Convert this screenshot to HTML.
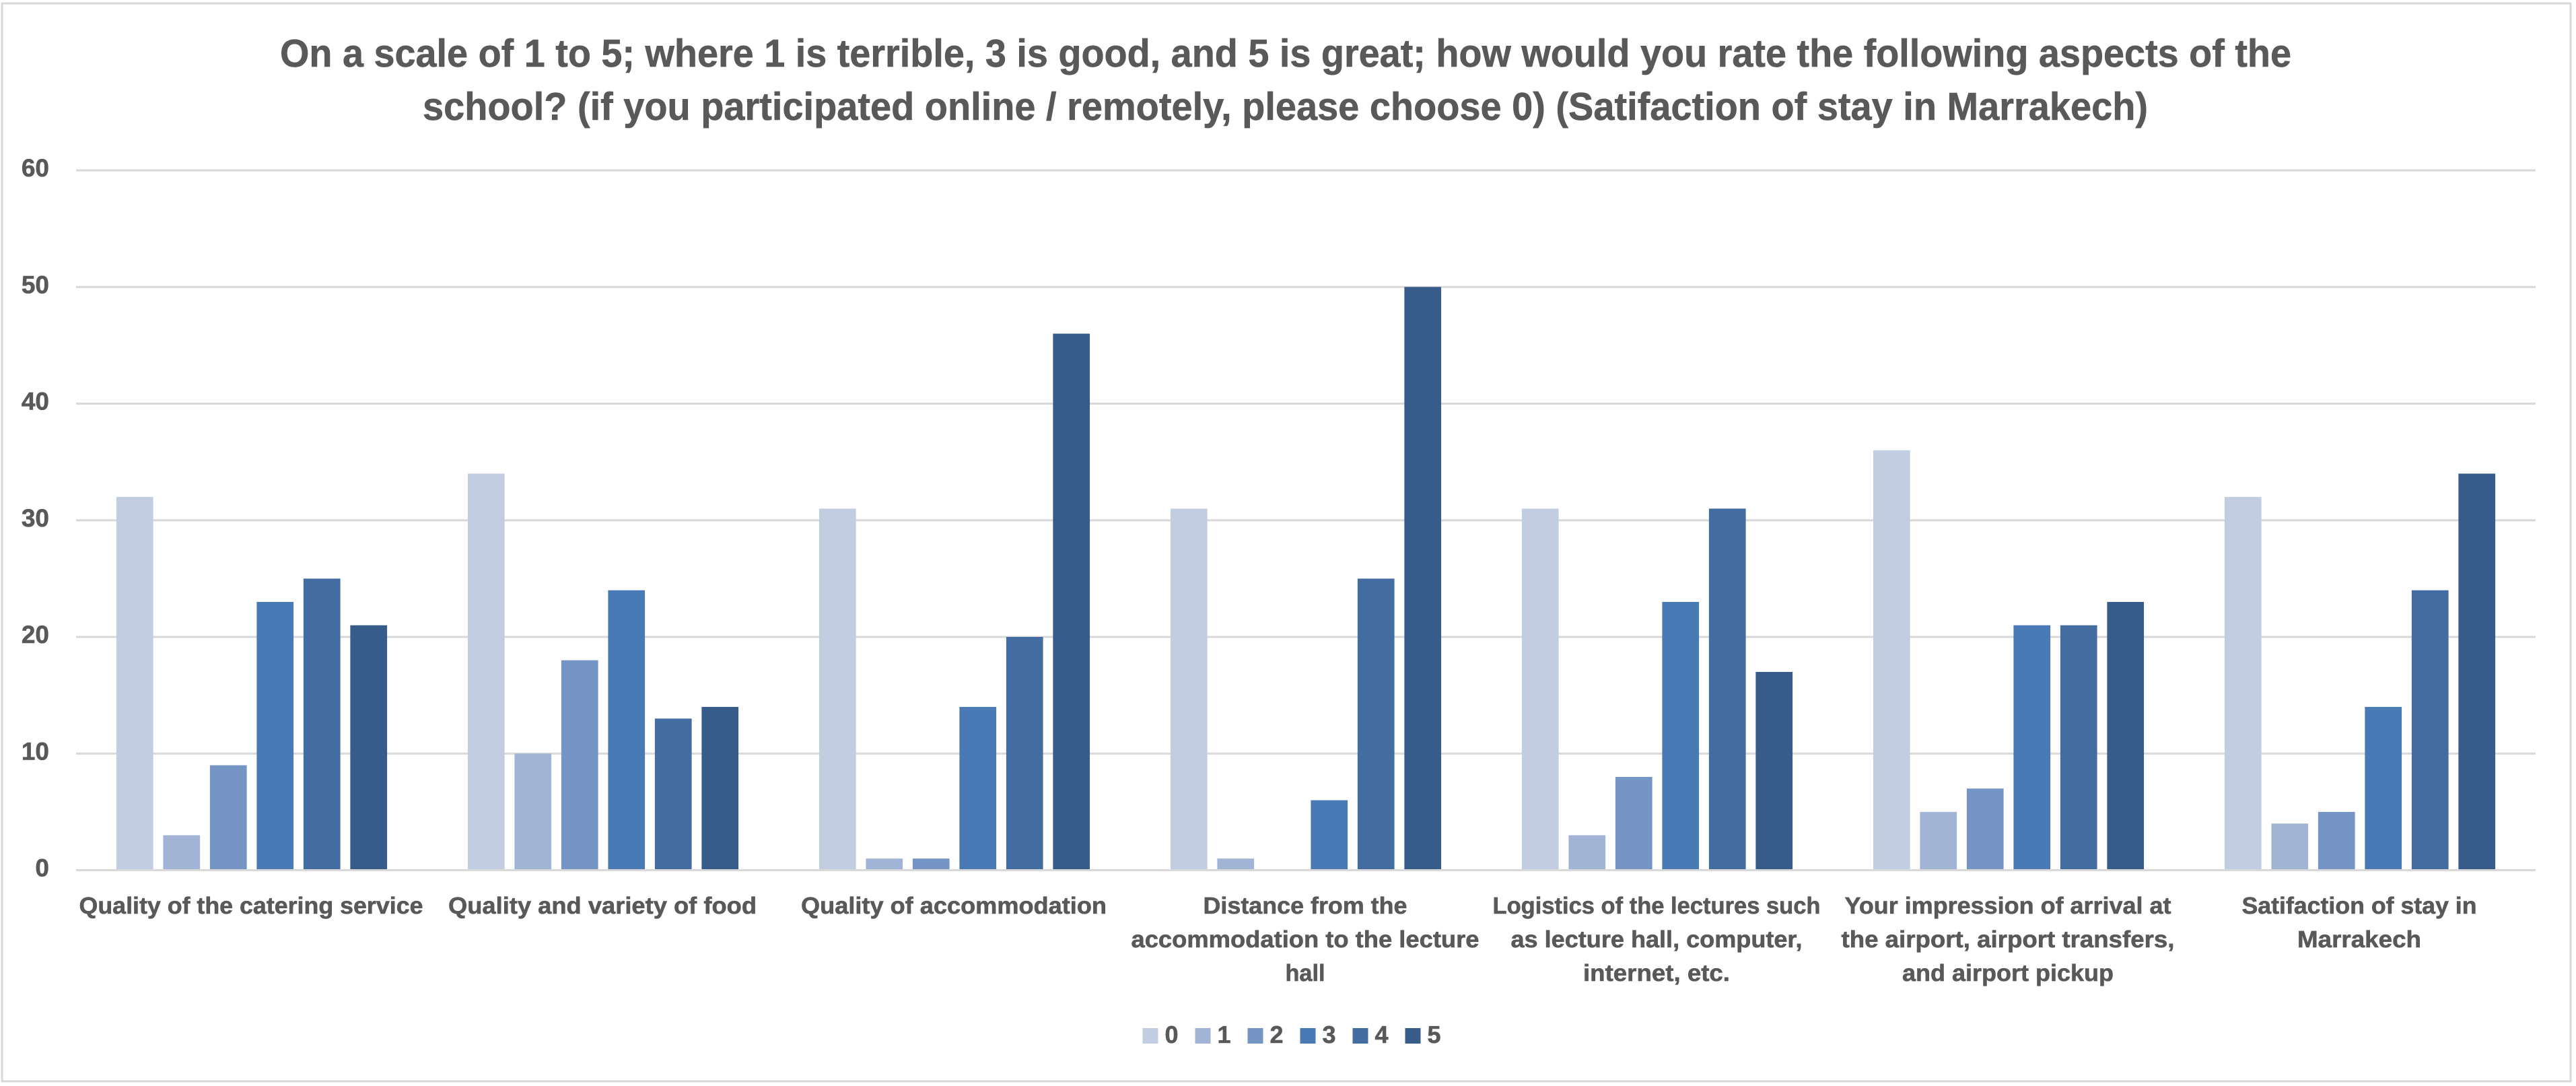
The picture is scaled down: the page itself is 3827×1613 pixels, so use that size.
<!DOCTYPE html>
<html lang="en">
<head>
<meta charset="utf-8">
<title>Rating of school aspects</title>
<style>
  html, body { margin: 0; padding: 0; background: #ffffff; }
  svg { display: block; }
  text { font-family: "Liberation Sans", sans-serif; font-weight: 700; fill: #595959; stroke: #595959; stroke-width: 0.6; text-rendering: geometricPrecision; }
</style>
</head>
<body>
<svg id="chart" xmlns="http://www.w3.org/2000/svg" width="3827" height="1613" viewBox="0 0 3827 1613">
  <rect x="3" y="5" width="3816" height="1601" fill="#ffffff" stroke="#d9d9d9" stroke-width="3"/>
  <g>
    <text x="416" y="99" font-size="58" textLength="2988" lengthAdjust="spacingAndGlyphs">On a scale of 1 to 5; where 1 is terrible, 3 is good, and 5 is great; how would you rate the following aspects of the</text>
    <text x="628" y="178" font-size="58" textLength="2563" lengthAdjust="spacingAndGlyphs">school? (if you participated online / remotely, please choose 0) (Satifaction of stay in Marrakech)</text>
  </g>
  <g id="grid"></g>
  <g id="yticks"></g>
  <g id="bars"></g>
  <g id="axis"></g>
  <g id="xlabels"></g>
  <g id="legend"></g>
</svg>
<script>
// ---- chart data ----
const categoryLines = [
  ["Quality of the catering service"],
  ["Quality and variety of food"],
  ["Quality of accommodation"],
  ["Distance from the", "accommodation to the lecture", "hall"],
  ["Logistics of the lectures such", "as lecture hall, computer,", "internet, etc."],
  ["Your impression of arrival at", "the airport, airport transfers,", "and airport pickup"],
  ["Satifaction of stay in", "Marrakech"]
];
const seriesNames = ["0", "1", "2", "3", "4", "5"];
const series0 = [32, 34, 31, 31, 31, 36, 32];
const series1 = [3, 10, 1, 1, 3, 5, 4];
const series2 = [9, 18, 1, 0, 8, 7, 5];
const series3 = [23, 24, 14, 6, 23, 21, 14];
const series4 = [25, 13, 20, 25, 31, 21, 24];
const series5 = [21, 14, 46, 50, 17, 23, 34];
const yTicks = [0, 10, 20, 30, 40, 50, 60];

// ---- styling / layout (not data) ----
const seriesColors = ["#c2cde2", "#a2b4d5", "#7595c5", "#4a7ab5", "#436da0", "#385c8a"];
const labelFitWidths = [[511], [458], [454], [303, 517, 59], [487, 433, 218], [485, 495, 314], [349, 184]];
const allSeries = [series0, series1, series2, series3, series4, series5];
const plot = { left: 113, right: 3767, zeroY: 1292.5, topY: 253 };
const gapWidth = 2.19, overlapGap = 0.27;
const NS = "http://www.w3.org/2000/svg";

function yScale(v) {
  const max = yTicks[yTicks.length - 1];
  return plot.zeroY - (v / max) * (plot.zeroY - plot.topY);
}
const catWidth = (plot.right - plot.left) / categoryLines.length;
const barCount = allSeries.length;
const barWidth = catWidth / (barCount + (barCount - 1) * overlapGap + gapWidth);
function catLeft(c) { return plot.left + c * catWidth; }
function catCenter(c) { return catLeft(c) + catWidth / 2; }
function barX(c, s) { return catLeft(c) + barWidth * gapWidth / 2 + s * barWidth * (1 + overlapGap); }

const gridG = document.getElementById("grid");
const tickG = document.getElementById("yticks");
yTicks.forEach(function (t) {
  if (t !== 0) {
    const line = document.createElementNS(NS, "line");
    
    
    line.setAttribute("x1", plot.left);
    line.setAttribute("x2", plot.right);
    line.setAttribute("y1", yScale(t));
    line.setAttribute("y2", yScale(t));
    line.setAttribute("stroke", "#d9d9d9");
    line.setAttribute("stroke-width", "3");
    gridG.appendChild(line);
  }
  const label = document.createElementNS(NS, "text");
  
  
  label.setAttribute("x", 73);
  label.setAttribute("y", yScale(t) + 9);
  label.setAttribute("font-size", "37");
  label.setAttribute("text-anchor", "end");
  label.textContent = t;
  tickG.appendChild(label);
});

const barsG = document.getElementById("bars");
allSeries.forEach(function (values, s) {
  values.forEach(function (v, c) {
    const bar = document.createElementNS(NS, "rect");
    
    
    bar.setAttribute("x", barX(c, s));
    bar.setAttribute("y", yScale(v));
    bar.setAttribute("width", barWidth);
    bar.setAttribute("height", Math.max(0, yScale(0) - yScale(v)));
    bar.setAttribute("fill", seriesColors[s]);
    barsG.appendChild(bar);
  });
});

const axisLine = document.createElementNS(NS, "line");


axisLine.setAttribute("x1", plot.left);
axisLine.setAttribute("x2", plot.right);
axisLine.setAttribute("y1", yScale(0));
axisLine.setAttribute("y2", yScale(0));
axisLine.setAttribute("stroke", "#d9d9d9");
axisLine.setAttribute("stroke-width", "3");
document.getElementById("axis").appendChild(axisLine);

const xG = document.getElementById("xlabels");
categoryLines.forEach(function (lines, c) {
  lines.forEach(function (txt, i) {
    const w = labelFitWidths[c][i];
    const label = document.createElementNS(NS, "text");
    
    
    label.setAttribute("x", catCenter(c) - 1 - w / 2);
    label.setAttribute("y", 1357 + i * 50);
    label.setAttribute("font-size", "35");
    label.setAttribute("textLength", w);
    label.setAttribute("lengthAdjust", "spacingAndGlyphs");
    label.textContent = txt;
    xG.appendChild(label);
  });
});

const legendG = document.getElementById("legend");
seriesNames.forEach(function (name, s) {
  const lx = 1697.5 + s * 78;
  const swatch = document.createElementNS(NS, "rect");
  
  
  swatch.setAttribute("x", lx);
  swatch.setAttribute("y", 1527);
  swatch.setAttribute("width", 23);
  swatch.setAttribute("height", 23);
  swatch.setAttribute("fill", seriesColors[s]);
  legendG.appendChild(swatch);
  const label = document.createElementNS(NS, "text");
  
  
  label.setAttribute("x", lx + 33);
  label.setAttribute("y", 1549);
  label.setAttribute("font-size", "36");
  label.textContent = name;
  legendG.appendChild(label);
});
</script>
</body>
</html>
